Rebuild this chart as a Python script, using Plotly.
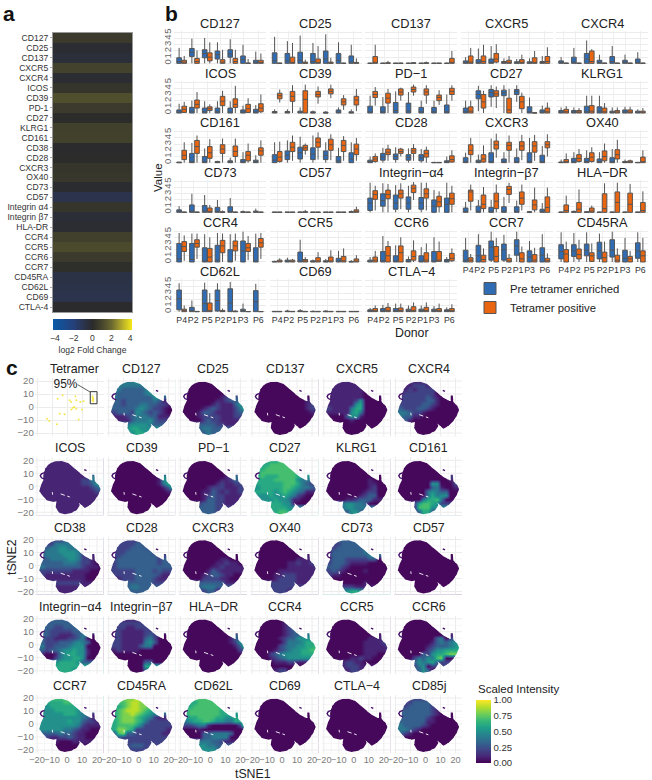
import plotly.graph_objects as go

W, H = 652, 780
FONT = "Liberation Sans"

# ---------- panel a ----------
fc_labels = ["CD127","CD25","CD137","CXCR5","CXCR4","ICOS","CD39","PD-1","CD27","KLRG1","CD161","CD38","CD28","CXCR3",
             "OX40","CD73","CD57","Integrin α4","Integrin β7","HLA-DR","CCR4","CCR5","CCR6","CCR7","CD45RA","CD62L","CD69","CTLA-4"]
fc_values = [0.6,-0.2,-0.4,0.9,-0.2,0.4,1.3,0.6,0.05,0.8,0.85,-0.05,0.05,0.4,0.45,-0.1,-0.9,0.4,-0.3,-0.2,0.8,1.15,0.6,0.1,-0.7,-0.8,-0.9,-0.05]

# ---------- panel b : each box is (q1, median, q3, low whisker, high whisker) ----------
donors = ["P4","P2","P5","P2","P1","P3","P6"]
donor_ticks = [1,1.9,3,4,4.9,5.8,7]

CD127_pre=[(0,.3,.9,0,2.5),(1.1,1.8,2.4,0,4),(.9,1.6,2.2,0,4.1),(.7,1.4,2,0,3.4),(1,1.5,2.2,0,3.9),(0,.6,1.2,0,3),(0,.2,.5,0,1.9)]
CD127_pos=[(0,.2,.5,0,1.2),(0,.3,.8,0,2.1),(.4,1,1.7,0,3.4),(0,.2,.6,0,2.2),(0,.3,.8,0,2.2),(0,0,.05,0,.7),(0,.15,.5,0,1.6)]
CD25_pre=[(0,.4,1.7,0,4.3),(0,.4,1.6,0,3.6),(0,.5,1.8,0,4.5),(0,.3,1.6,0,3.3),(0,.7,2,0,4.7),(0,.5,1.6,0,3.4),(0,.2,1.2,0,3)]
CD25_pos=[(0,0,.05,0,.1),(0,.1,1,0,3.3),(0,0,.2,0,.6),(0,.1,.7,0,2.8),(0,0,.2,0,.9),(0,0,.03,0,.1),(0,.05,.15,0,.8)]
CD137_pre=[(0,0,.03,0,.1),(0,0,.03,0,.1),(0,0,.03,0,.1),(0,0,.03,0,.1),(0,0,.03,0,.1),(0,0,.03,0,.1),(0,0,.03,0,.1)]
CD137_pos=[(0,.1,1.1,0,3),(0,.02,.1,0,.4),(0,0,.05,0,.1),(0,.02,.1,0,.2),(0,.02,.1,0,.3),(0,0,.05,0,.05),(0,.1,.8,0,2)]
CXCR5_pre=[(0,.1,.4,0,1),(0,.1,.6,0,2.4),(0,.1,.7,0,2.8),(0,.05,.3,0,.8),(0,.05,.25,0,.7),(0,.05,.25,0,.8),(0,.05,.3,0,1.2)]
CXCR5_pos=[(0,.2,1.2,0,2.5),(0,.3,1.2,0,3),(.2,.7,1.6,0,3.1),(0,.1,.5,0,1.2),(0,.1,.6,0,1.4),(0,.1,.9,0,2),(0,.3,1.1,0,2.6)]
CXCR4_pre=[(0,.1,.4,0,1),(0,.2,1,0,2.5),(0,.7,1.6,0,3.7),(0,.1,.5,0,1.4),(0,.3,1.1,0,2.8),(0,.1,.5,0,1.4),(0,.1,.7,0,1.8)]
CXCR4_pos=[(0,0,.05,0,.1),(0,0,.05,0,.1),(0,.3,2,0,2.3),(0,0,.05,0,.1),(0,0,.05,0,.1),(0,0,.05,0,.1),(0,0,.05,0,.1)]
ICOS_pre=[(0,.1,.5,0,1.5),(0,.3,.9,0,2),(0,.2,.8,0,1.9),(0,.2,.8,0,1.9),(0,.1,.8,0,1.9),(0,.1,.5,0,1.2),(0,.1,.6,0,1.3)]
ICOS_pos=[(.1,.6,1.1,0,1.8),(.8,1.4,2.1,0,3.4),(.4,.7,1,0,1.4),(1.2,1.9,2.7,0,3.6),(.9,1.4,2.3,0,4.4),(.1,.7,1.4,0,2.4),(.2,.8,1.5,0,3)]
CD39_pre=[(0,0,.25,0,.6),(0,0,.25,0,.6),(0,0,.3,0,.9),(0,0,.2,0,.4),(0,0,.15,0,.3),(0,0,.5,0,.9),(0,0,.2,0,.6)]
CD39_pos=[(2.3,2.8,3.2,1.7,3.8),(1.9,2.7,3.5,0,4.5),(0,2.2,3.6,0,4.6),(2.6,3,3.5,1.5,4.3),(3.1,3.5,3.9,2.4,4.6),(1.3,1.8,2.3,.5,2.9),(1.3,2.1,2.7,.3,3.9)]
PD1_pre=[(0,.1,1.1,0,2.8),(0,.2,1,0,2.6),(0,.4,1.7,0,3.5),(0,.3,1.6,0,3.4),(0,.2,.9,0,2),(0,.2,.9,0,2),(0,.2,1.3,0,3)]
PD1_pos=[(2.5,3,3.5,1.2,4.2),(1.6,2.4,3.2,0,3.9),(2.9,3.4,3.9,2,4.1),(3.4,3.8,4.2,2.8,4.6),(2.9,3.4,3.9,1.5,4.5),(2,2.5,2.9,1.3,3.7),(3,3.5,4,2,4.5)]
CD27_pre=[(0,.2,.8,0,2),(2.3,3,3.6,.3,4.4),(2.6,3.3,3.8,1,4.5),(2.8,3.3,3.7,0,4.5),(3,3.5,3.8,1.8,4.5),(0,.2,1,0,2.5),(0,.1,.5,0,1.2)]
CD27_pos=[(0,.3,1,0,2),(.8,1.8,3,0,3.6),(2.7,3.1,3.6,.8,4.3),(0,.5,2.4,0,3.9),(.7,1.8,2.7,0,3.3),(0,0,.05,0,.1),(0,.2,.8,0,1.7)]
KLRG1_pre=[(0,.1,.4,0,.9),(0,.1,.4,0,.9),(0,.2,1.1,0,2.8),(0,.3,1,0,2.8),(0,.1,.3,0,.9),(0,.1,.5,0,1),(0,.1,.3,0,.6)]
KLRG1_pos=[(0,.2,.6,0,1.1),(0,.1,.4,0,.8),(0,.3,1.2,0,2.8),(0,.2,.8,0,1.6),(0,.1,.4,0,.9),(0,.1,.5,0,1),(0,.1,.3,0,.8)]
CD161_pre=[(0,0,.1,0,.1),(0,.05,1.5,0,3.2),(0,.1,1,0,2.3),(0,.05,.2,0,.3),(0,.05,.3,0,.8),(0,.1,.5,0,1.7),(0,.05,.4,0,1.2)]
CD161_pos=[(.5,1.2,2,0,3.3),(1.5,2.6,3.6,0,4.4),(.7,1.6,2.6,0,3.8),(1.5,2.2,2.9,0,3.9),(1,1.8,2.7,0,3.9),(.3,1.2,1.8,0,3.1),(1.2,1.9,2.4,0,3.6)]
CD38_pre=[(0,.4,1.3,0,3.3),(.5,1.2,1.9,0,3.6),(.6,1.6,2.5,0,4.2),(.5,1.4,2.4,0,4.4),(.5,1.2,1.9,0,3.3),(0,.3,1,0,2.4),(0,.6,1.6,0,3.3)]
CD38_pos=[(.2,.9,1.8,0,3.4),(1.8,2.5,3.3,.3,4.4),(2,2.4,2.8,1.3,3.1),(2.5,3.3,4,.5,4.9),(2,2.9,3.8,.4,4.6),(1.8,2.8,3.6,.3,4.3),(1.3,2.2,3,.3,4)]
CD28_pre=[(0,.1,.4,0,1),(.4,.9,1.5,0,2.4),(.5,1,1.4,0,2.5),(.4,.9,1.3,0,2.3),(.3,.8,1.3,0,2.2),(0,0,.05,0,.1),(0,.1,.3,0,1)]
CD28_pos=[(.2,.6,1,0,1.5),(1.3,1.7,2.2,.3,2.9),(1.5,1.8,2.2,1,2.4),(1.5,1.9,2.3,.3,3),(.9,1.5,2,0,2.6),(0,0,.05,0,.1),(.1,.5,1.1,0,2)]
CXCR3_pre=[(0,.05,.8,0,1.6),(0,.05,.4,0,1.3),(0,.1,1.6,0,3.9),(0,.05,.6,0,1.7),(0,.1,.8,0,2.3),(0,.1,1.6,0,4),(0,.1,1.2,0,2.7)]
CXCR3_pos=[(1.3,2,2.9,0,4),(.1,.6,1.3,0,2.8),(2.2,2.9,3.5,.8,4.7),(2,2.8,3.3,0,4.4),(2,2.7,3.4,.4,4.5),(1.7,2.7,3.4,.3,4.5),(2.4,2.9,3.4,1,4.6)]
OX40_pre=[(0,.05,.1,0,.5),(0,.1,.7,0,1.7),(0,.1,.7,0,2),(0,.1,.6,0,1.7),(0,.1,.8,0,2.2),(0,0,.2,0,.5),(0,0,.05,0,.1)]
OX40_pos=[(0,.1,.5,0,1.5),(.2,.7,1.3,0,2.2),(.2,.9,1.6,0,2.5),(.3,1,1.9,0,3.1),(.6,1.3,2.1,0,3.7),(0,.1,.3,0,.5),(0,.1,.9,0,2)]
CD73_pre=[(0,.05,.4,0,1),(0,.1,1.2,0,3),(0,.2,1.1,0,2.8),(0,.1,.8,0,2),(0,.1,.9,0,2.3),(0,.02,.1,0,.3),(0,.05,.2,0,.6)]
CD73_pos=[(0,0,.05,0,.1),(0,0,.05,0,.1),(0,.1,.7,0,1.2),(0,0,.1,0,.3),(0,0,.05,0,.1),(0,0,.05,0,.1),(0,0,.05,0,.1)]
CD57_pre=[(0,0,.05,0,.05),(0,0,.05,0,.05),(0,.02,.05,0,.1),(0,0,.05,0,.05),(0,0,.05,0,.05),(0,0,.05,0,.05),(0,.05,.1,0,.3)]
CD57_pos=[(0,0,.05,0,.05),(0,0,.05,0,.05),(0,.05,.1,0,.4),(0,0,.05,0,.05),(0,0,.05,0,.05),(0,0,.05,0,.05),(0,.1,.4,0,.9)]
ITGA4_pre=[(.3,1.5,2.3,0,4.8),(1,1.9,3,0,4.7),(.5,1.5,2.8,0,4.4),(.5,1.5,2.5,0,4.3),(.5,1.5,2.4,0,4.8),(0,1,2,0,3.6),(0,1.3,2.3,0,4.8)]
ITGA4_pos=[(2.1,2.9,3.5,.3,4.3),(2.2,2.9,3.6,0,4.6),(2.3,3,3.6,.5,4.7),(3.2,3.9,4.4,2,4.9),(2.3,3,3.8,.3,4.8),(.9,1.7,2.6,0,3.4),(1.3,2.2,3.1,0,4.3)]
ITGB7_pre=[(0,.05,.7,0,1.7),(0,.1,1,0,2),(0,.1,.8,0,2),(0,.1,.9,0,2.5),(0,.1,.9,0,1.9),(0,.05,.1,0,.2),(0,.05,.5,0,1.5)]
ITGB7_pos=[(1.8,3.3,3.6,.3,4.5),(.6,1.3,2.8,0,4.1),(.6,1.8,3.1,0,4.5),(2.9,3.7,4.2,1.5,4.8),(1.3,2.3,3.3,.3,4.5),(.4,1.2,2,0,4),(0,.8,2.5,0,4)]
HLADR_pre=[(0,0,.05,0,.1),(0,.05,.15,0,.3),(0,0,.1,0,.2),(0,0,.05,0,.1),(0,0,.05,0,.1),(0,0,.05,0,.1),(0,0,.05,0,.1)]
HLADR_pos=[(0,.3,1.2,0,2.7),(0,.5,1.6,0,3.7),(0,.2,.7,0,1.1),(0,.6,3,0,4.7),(0,1.6,3.3,0,4.8),(0,1.3,3.1,0,4.6),(0,.3,1.6,0,3.4)]
CCR4_pre=[(0,.5,3,0,4.7),(0,.4,3,0,4.6),(0,.1,2.3,0,4.5),(0,.3,2.7,0,4.7),(0,.1,2,0,4.5),(0,1.8,3.4,0,4.9),(0,.1,2.3,0,4.6)]
CCR4_pos=[(1.7,2.5,3.3,.2,4.3),(2.4,3,3.6,.5,4.6),(0,.8,2.2,0,4),(1.5,2.6,3.5,0,4.6),(1.8,2.6,3.4,.2,4.6),(1.7,2.3,3,.3,4.2),(2.4,3.1,3.8,.5,4.7)]
CCR5_pre=[(0,.05,.1,0,.2),(0,.05,.3,0,.7),(0,.1,1.6,0,3.6),(0,.05,.2,0,.4),(0,.05,.2,0,.5),(0,.1,.6,0,1.8),(0,.02,.1,0,.3)]
CCR5_pos=[(0,.1,.3,0,.6),(0,.05,.3,0,.5),(0,.1,.4,0,.8),(0,.1,.7,0,1.6),(0,.1,.8,0,1.9),(0,.2,.9,0,2.2),(0,.1,.5,0,1.1)]
CCR6_pre=[(0,.05,.3,0,.8),(0,.2,1.7,0,4.2),(0,.1,1,0,2.7),(0,.05,.4,0,.9),(0,.1,1,0,2.4),(0,.2,1.7,0,4),(0,.05,.4,0,.8)]
CCR6_pos=[(0,.3,.8,0,1.8),(0,1,2.5,0,3.4),(0,1.5,2.6,0,4),(.3,.9,1.8,0,3.5),(0,.3,1.5,0,3),(.1,.3,1.7,0,3.3),(.2,.6,1.4,0,2.2)]
CCR7_pre=[(0,.3,1.9,0,3.9),(0,1,2.7,0,4.5),(.3,2.4,3.4,0,4.9),(.3,2,2.9,0,4.4),(1.1,2.6,3.6,0,4.9),(0,.8,1.8,0,3.4),(0,1.1,2.3,0,4.5)]
CCR7_pos=[(0,.3,.7,0,1.3),(0,.4,1.1,0,2.2),(0,.9,2.5,0,3.9),(0,.1,.6,0,1.3),(0,.5,1.5,0,2.5),(0,.3,1.2,0,2.3),(0,.2,.6,0,1.4)]
CD45RA_pre=[(.5,1.7,2.8,0,4.8),(.9,1.8,2.8,0,4.7),(1,1.9,2.9,0,4.8),(.5,1.8,3.2,0,4.6),(.8,1.9,3.6,0,4.9),(0,.6,1.9,0,3.9),(.6,1.8,3.1,0,4.8)]
CD45RA_pos=[(0,1.3,2,0,3.3),(.5,1.2,2.1,0,3.6),(.1,1,1.5,0,3),(0,.7,1.6,0,3.3),(0,.3,1.1,0,2.2),(0,.5,.9,0,1.8),(0,1,1.8,0,3.9)]
CD62L_pre=[(.3,2.1,3.5,0,4.6),(0,.1,.7,0,1.8),(0,1.3,3.5,0,4.7),(.1,1.8,3.5,0,4.6),(0,1.4,3.7,0,4.8),(0,.05,.4,0,1.3),(0,1.6,3.4,0,4.5)]
CD62L_pos=[(0,.05,.4,0,1),(0,0,.05,0,.1),(0,.05,1.4,0,3),(0,0,.2,0,.5),(0,0,.1,0,.2),(0,0,.03,0,.03),(0,0,.03,0,.03)]
CD69_pre=[(0,0,.05,0,.05),(0,.02,.1,0,.3),(0,.02,.15,0,.4),(0,0,.05,0,.2),(0,0,.1,0,.2),(0,0,.05,0,.05),(0,0,.05,0,.05)]
CD69_pos=[(0,0,.05,0,.05),(0,0,.05,0,.05),(0,0,.05,0,.05),(0,0,.05,0,.05),(0,0,.05,0,.05),(0,0,.05,0,.05),(0,0,.05,0,.05)]
CTLA4_pre=[(0,.1,.3,0,.6),(0,.1,.5,0,1.1),(0,.1,.5,0,1.3),(0,.1,.4,0,1),(0,.1,.4,0,1),(0,.1,.4,0,.9),(0,.1,.3,0,.7)]
CTLA4_pos=[(0,.1,.5,0,1),(0,.2,.7,0,1.4),(0,.2,.6,0,1.3),(0,.2,.8,0,1.5),(0,.2,.7,0,1.5),(0,.1,.5,0,1.3),(0,.1,.5,0,1.2)]

box_titles = ["CD127","CD25","CD137","CXCR5","CXCR4","ICOS","CD39","PD−1","CD27","KLRG1","CD161","CD38","CD28","CXCR3","OX40",
              "CD73","CD57","Integrin−α4","Integrin−β7","HLA−DR","CCR4","CCR5","CCR6","CCR7","CD45RA","CD62L","CD69","CTLA−4"]
box_pre = [CD127_pre,CD25_pre,CD137_pre,CXCR5_pre,CXCR4_pre,ICOS_pre,CD39_pre,PD1_pre,CD27_pre,KLRG1_pre,CD161_pre,CD38_pre,CD28_pre,CXCR3_pre,OX40_pre,
           CD73_pre,CD57_pre,ITGA4_pre,ITGB7_pre,HLADR_pre,CCR4_pre,CCR5_pre,CCR6_pre,CCR7_pre,CD45RA_pre,CD62L_pre,CD69_pre,CTLA4_pre]
box_pos = [CD127_pos,CD25_pos,CD137_pos,CXCR5_pos,CXCR4_pos,ICOS_pos,CD39_pos,PD1_pos,CD27_pos,KLRG1_pos,CD161_pos,CD38_pos,CD28_pos,CXCR3_pos,OX40_pos,
           CD73_pos,CD57_pos,ITGA4_pos,ITGB7_pos,HLADR_pos,CCR4_pos,CCR5_pos,CCR6_pos,CCR7_pos,CD45RA_pos,CD62L_pos,CD69_pos,CTLA4_pos]

# ---------- panel c : coarse intensity, one digit per cell, tenths of the scale ----------
grid_x = [-19.5,-16.5,-13.5,-10.5,-7.5,-4.5,-1.5,1.5,4.5,7.5,10.5,13.5,16.5,19.5,22.5]
grid_y = [20,17,14,11,8,5,2,-1,-4,-7,-10,-13,-16,-19,-22]
row_start = [5,3,2,1,1,1,1,1,1,1,1,4,4,5]

# outline of the tSNE map and its white slits
blob_x = [-7.6,-3.6,.8,4.2,6.4,9.3,11.9,14.8,16.8,16.8,18.2,18.6,21.3,22.4,20.8,18.6,15.3,11.9,9.7,7.9,8.6,6.4,3,-1.4,-5.4,-7.6,-7,-9.2,-13.6,-16.5,-18.5,-17.4,-15.8,-15.8,-14.7,-12.5,-10.3]
blob_y = [19.2,19.4,17.9,14.8,12.2,9.7,7.1,5.3,4.6,8.9,8.9,3.8,.7,-2.4,-7,-10.8,-14.7,-16.7,-14.7,-12.6,-14.7,-18.5,-20.6,-21.6,-20.3,-16,-11.6,-12.1,-10.8,-7,-3.9,.7,4.6,8.4,13.5,16.6,18.2]
slit_x = [-9.8,-9.6,None,-4.2,-1.5,None,.2,1.9]
slit_y = [-4.5,-6.5,None,-5.9,-7,None,-7.6,-8.3]
island_x = [-15,-17,-17.8,-17,-15,None,11.5,13]
island_y = [10.5,9.5,8,6.5,5.5,None,12.8,12]

tsne_titles = ["CD127","CD25","CD137","CXCR5","CXCR4","ICOS","CD39","PD−1","CD27","KLRG1","CD161","CD38","CD28","CXCR3","OX40","CD73","CD57",
               "Integrin−α4","Integrin−β7","HLA−DR","CCR4","CCR5","CCR6","CCR7","CD45RA","CD62L","CD69","CTLA−4","CD85j"]
ZERO = "0000 0000000 000000000 00000000000 000000000000 000000000000 0000000000000 00000000000000 0000000000000 000000000000 00000000000 0000000 00000 0000"
tsne_cells = [
"4554 4444445 433333455 43333334554 433333333553 332333333431 3323334433221 33333454322100 2333254323210 111234443311 01113444532 4555543 56655 5665",
"0000 0000000 000000000 00000000000 000000001223 000000011233 0000001211135 00001232111246 0001332111123 000122221112 00002322111 3333221 34433 3433",
"0000 0000000 000000000 00000000000 000000000000 000000000001 0000000000012 00000000000122 0000000000001 000000000000 00000000000 0000000 00000 0000",
"1111 1111111 111111100 11111111000 111111110000 111111250000 1111115600000 21111466000000 1111156400000 000035510000 00000100000 0000000 00000 0000",
"1111 1222111 121222210 12222222000 222222321000 222222331000 2222233210000 32223321000000 4432210000000 433110000000 13100000000 0000000 00000 0000",
"1111 1111111 111111111 11111111111 111111111114 111111111224 1111111112235 11111111111234 1111111111112 111111111111 11111111111 1111111 11111 1111",
"0000 0000000 000000000 00000000000 000000000005 000000000015 0000000000146 00000000000136 0000000000001 000000000000 00000000000 0000000 00000 0000",
"0000 0000000 000000000 00000000000 000000000114 000000001123 0000000121122 00000122211122 0000113212112 000012322111 00001332211 2333221 33332 3332",
"6776 6777777 677777776 67777777766 676667777655 666677777544 6666667776432 56666677654433 6666567654311 555655654210 45556554110 6665510 66665 6776",
"0000 0000000 000000000 00000000000 000000000000 000000000100 0000000001100 00000000012000 0000000012200 000000012330 00001123331 4554430 45544 3553",
"0000 0000000 000000000 00000000000 000000000002 000000000001 0000000550002 00000003410011 0000004543300 000000464550 00000466740 2677652 17775 3663",
"2333 2444442 344554432 34445555421 344445554211 334444554221 3333344432210 43333333321110 2222222111100 211111111100 11111111110 2222221 11111 1111",
"2222 2223322 222333322 22233333322 223333333322 233333333323 2333333333233 23333333333333 2222233332322 222223333321 11222333321 3333332 34433 3333",
"0000 0000000 000000000 00000000000 000000000000 000000001100 0000000112110 00000011211111 0000013211111 000012332110 00002222110 3333331 34443 2331",
"0000 0000000 000000000 00000000000 000000000001 000000000111 0000000112112 00000001111112 0000011111111 000011222111 00001222211 2222221 22222 2221",
"3333 2333333 233333334 23333333445 233333333453 233322222330 2333211110000 33321000000000 2321000010000 211000000000 00000000000 0000010 22211 5665",
ZERO,
"3333 3333333 332233334 33222223334 332211123450 322111223400 3222333454300 42233345550000 3233455655100 100145665510 00024556650 5666653 66666 6665",
"1111 2222222 221122222 22111112222 221111123220 221111134200 2211111453000 22111134400000 1211110000000 000000000000 00000000000 0000330 00006 0003",
"0000 0000000 000000000 00000000000 000000000003 000000000013 0000000000125 00000000000137 0000000000002 000000000000 00000000000 0000000 00000 0000",
"0000 0000122 000001233 00000012334 000000123344 000001233555 0000002444566 00000234455667 0000123455667 000234555566 00012345555 0111221 00000 1220",
"0000 0000000 000000000 00000000000 000000000001 000000000111 0000000011112 00000000111112 0000000011111 000000001110 00000112110 1221100 12221 1221",
"0000 0000000 000000000 00000000000 000000000001 000000003402 0000000134345 00000012333456 0000002355666 000003256678 00024354780 3545632 24502 3530",
"7776 6667766 566666665 55566666554 555556665441 555555555431 5555556553221 55555555421111 5555544321100 333343321100 22112232110 1000111 00000 0000",
"8998 7899887 678998876 67899987665 678898765443 678887654211 6788876422222 67777642222222 6887622222221 378332222221 23222222222 2222222 23332 2222",
"7777 6777777 677777776 67777777666 677777776655 566777766556 4566776554466 22344100000028 0001000000000 000033444430 00003344440 4443321 55443 5554",
ZERO,
ZERO,
"2233 2333322 233333221 33333332100 333333321000 333333210000 3333331100000 43333210000000 4432100000000 321000000000 00000000000 0000000 00000 0000",
]
tet_x = [-13.3,-11.8,-6.7,-6.2,-2.9,-4.9,-1.6,1.8,2.7,5.6,4,4.9,2.9,6.2,8.9,11.1,10,7.8,6.2,17,17.3,17.5,17,17.6,17.2,17.4]
tet_y = [-9,-10.8,-13.3,6.4,9,-5.1,-5.6,5.1,3.8,8.2,-.5,0,-2,-1.3,3.8,4.4,-2,-9.7,5.1,8,7,6,5,4.5,6.5,5.5]
gate_x = [15.5,20]
gate_y = [2.5,11.8]

# ---------- helpers ----------
def xd(a, b): return [a / W, b / W]
def yd(t, b): return [1 - b / H, 1 - t / H]

fig = go.Figure()
layout = {}
ann = []
n_axis = [0]

def new_axes(xdom, ydom, xa, ya):
    n_axis[0] += 1
    i = n_axis[0]
    sx = "" if i == 1 else str(i)
    layout["xaxis" + sx] = dict(domain=xdom, anchor="y" + sx, **xa)
    layout["yaxis" + sx] = dict(domain=ydom, anchor="x" + sx, **ya)
    return "x" + sx, "y" + sx

def text(x, y, s, size, color="#222222", **k):
    ann.append(dict(x=x / W, y=1 - y / H, xref="paper", yref="paper", text=s, showarrow=False,
                    font=dict(size=size, color=color, family=FONT), xanchor=k.pop("xanchor", "center"), yanchor="middle", **k))

def outside_spans(fixed, low, high, vertical):
    """Parts of a grid line that lie outside the map outline."""
    cuts = []
    n = len(blob_x)
    for i in range(n):
        a0, b0 = (blob_x[i], blob_y[i]) if vertical else (blob_y[i], blob_x[i])
        a1, b1 = (blob_x[(i + 1) % n], blob_y[(i + 1) % n]) if vertical else (blob_y[(i + 1) % n], blob_x[(i + 1) % n])
        if (a0 <= fixed) != (a1 <= fixed):
            cuts.append(b0 + (fixed - a0) / (a1 - a0) * (b1 - b0))
    pts = [low] + sorted(c for c in cuts if low < c < high) + [high]
    return [(pts[i], pts[i + 1]) for i in range(0, len(pts) - 1, 2)]

def grid_segments(values, x_rng, y_rng):
    gx, gy = [], []
    for v in values:
        for a, b in outside_spans(v, y_rng[0], y_rng[1], True):
            gx += [v, v, None]; gy += [a, b, None]
        for a, b in outside_spans(v, x_rng[0], x_rng[1], False):
            gx += [a, b, None]; gy += [v, v, None]
    return gx, gy

# panel a
xa, ya = new_axes(xd(53, 132), yd(33, 312),
    dict(showticklabels=False, showgrid=False, zeroline=False, ticks="", range=[0, 1], showline=True, linecolor="#999999", mirror=True),
    dict(autorange="reversed", showgrid=False, zeroline=False, ticks="outside", ticklen=2, tickcolor="#aaaaaa", tickwidth=1,
         showline=True, linecolor="#999999", mirror=True,
         tickfont=dict(size=8.6, color="#333333", family=FONT), tickmode="array",
         tickvals=fc_labels, ticktext=fc_labels, type="category"))
fig.add_trace(go.Heatmap(x=[0, 1], y=fc_labels, z=[[v, v] for v in fc_values], xaxis=xa, yaxis=ya, coloraxis="coloraxis2", hoverinfo="skip"))

# panel b
BLUE, ORANGE, EDGE = "#2f6cb4", "#ea6510", "#555555"
for k, title in enumerate(box_titles):
    r, c = divmod(k, 5)
    left = 174 + 95.5 * c
    bottom = 64.9 + 49.66 * r
    show_x = (r == 5) or (r == 4 and c >= 3)
    xa, ya = new_axes(xd(left, left + 92), yd(bottom - 34, bottom),
        dict(range=[0.4, 7.6], tickmode="array", tickvals=donor_ticks, ticktext=donors, showticklabels=show_x, ticks="", tickangle=0,
             showgrid=True, gridcolor="#efefef", gridwidth=1, zeroline=False, tickfont=dict(size=8.8, color="#333333", family=FONT)),
        dict(range=[-0.25, 5.25], tickmode="array", tickvals=[0, 1, 2, 3, 4, 5], showticklabels=(c == 0), ticks="", tickangle=-90,
             showgrid=True, gridcolor="#ececec", gridwidth=1, zeroline=False, tickfont=dict(size=9.5, color="#666666", family=FONT)))
    for boxes, off, col, nm in ((box_pre[k], -0.2, BLUE, "Pre tetramer enriched"), (box_pos[k], 0.2, ORANGE, "Tetramer positive")):
        fig.add_trace(go.Box(x=[i + 1 + off for i in range(7)],
                             q1=[b[0] for b in boxes], median=[b[1] for b in boxes], q3=[b[2] for b in boxes],
                             lowerfence=[b[3] for b in boxes], upperfence=[b[4] for b in boxes],
                             width=0.36, whiskerwidth=0, boxpoints=False, fillcolor=col, line=dict(color=EDGE, width=1),
                             name=nm, legendgroup=nm, showlegend=(k == 0), xaxis=xa, yaxis=ya, hoverinfo="skip"))
    text(left + 46, bottom - 41.5, title, 12.8)

# panel c
col_x0 = [67, 138.7, 210.4, 282.1, 353.8, 425.5]
row_y0 = [407, 486.25, 565.5, 644.75, 724]
tsne_ticks = [-20, -10, 0, 10, 20]
tsne_minor = [-15, -5, 5, 15]
XR, YR = [-21.5, 24.5], [-22.5, 22.5]
for k in range(30):
    r, c = divmod(k, 6)
    x0, y0 = col_x0[c], row_y0[r]
    xa, ya = new_axes(xd(x0 - 32.25, x0 + 36.75), yd(y0 - 29.25, y0 + 29.25),
        dict(range=XR, tickvals=tsne_ticks, showticklabels=(r == 4), ticks="", showgrid=(k == 0), gridcolor="#ececec", zeroline=False, tickangle=0,
             tickfont=dict(size=9.2, color="#7a7a7a", family=FONT)),
        dict(range=YR, tickvals=tsne_ticks, showticklabels=(c == 0), ticks="", showgrid=(k == 0), gridcolor="#ececec", zeroline=False,
             tickfont=dict(size=9.6, color="#7a7a7a", family=FONT)))
    if k == 0:
        fig.add_trace(go.Scatter(x=tet_x, y=tet_y, mode="markers", marker=dict(size=2, color="#f4e74a"), xaxis=xa, yaxis=ya,
                                 showlegend=False, hoverinfo="skip"))
        fig.add_trace(go.Scatter(x=[gate_x[0], gate_x[1], gate_x[1], gate_x[0], gate_x[0]],
                                 y=[gate_y[0], gate_y[0], gate_y[1], gate_y[1], gate_y[0]], mode="lines",
                                 line=dict(color="#333333", width=1), xaxis=xa, yaxis=ya, showlegend=False, hoverinfo="skip"))
        fig.add_trace(go.Scatter(x=[7.1, 15.5], y=[17.2, 11.5], mode="lines", line=dict(color="#333333", width=0.8),
                                 xaxis=xa, yaxis=ya, showlegend=False, hoverinfo="skip"))
        fig.add_trace(go.Scatter(x=[-1], y=[17], mode="text", text=["95%"], textfont=dict(size=12, color="#222222", family=FONT),
                                 xaxis=xa, yaxis=ya, showlegend=False, hoverinfo="skip"))
        text(74.5, y0 - 38, "Tetramer", 12.4)
        continue
    rows = tsne_cells[k - 1].split()
    z = []
    for i, row in enumerate(rows):
        vals = [max(int(ch) / 10, 0.02) for ch in row]
        line = [vals[0]] * len(grid_x)                 # cells outside the outline repeat the edge value; the mask hides them
        for j in range(len(grid_x)):
            if j >= row_start[i]:
                line[j] = vals[min(j - row_start[i], len(vals) - 1)]
        z.append(line)
    z.append(z[-1])
    fig.add_trace(go.Heatmap(x=grid_x, y=grid_y, z=z, coloraxis="coloraxis", zsmooth="best", xaxis=xa, yaxis=ya, hoverinfo="skip"))
    # white cover outside the outline, with a zero-width seam to its hole (hole wound the opposite way)
    hole_x, hole_y = blob_x[::-1], blob_y[::-1]
    mx = [XR[0], XR[1], XR[1], XR[0], XR[0]] + hole_x + [hole_x[0], XR[0]]
    my = [YR[1], YR[1], YR[0], YR[0], YR[1]] + hole_y + [hole_y[0], YR[1]]
    fig.add_trace(go.Scatter(x=mx, y=my, mode="lines", fill="toself", fillcolor="white", line=dict(width=0),
                             xaxis=xa, yaxis=ya, showlegend=False, hoverinfo="skip"))
    gx, gy = grid_segments(tsne_minor, XR, YR)
    fig.add_trace(go.Scatter(x=gx, y=gy, mode="lines", line=dict(color="#f6f6f6", width=1), xaxis=xa, yaxis=ya, showlegend=False, hoverinfo="skip"))
    gx, gy = grid_segments(tsne_ticks, XR, YR)
    fig.add_trace(go.Scatter(x=gx, y=gy, mode="lines", line=dict(color="#ececec", width=1), xaxis=xa, yaxis=ya, showlegend=False, hoverinfo="skip"))
    fig.add_trace(go.Scatter(x=slit_x, y=slit_y, mode="lines", line=dict(color="white", width=0.9), xaxis=xa, yaxis=ya, showlegend=False, hoverinfo="skip"))
    fig.add_trace(go.Scatter(x=island_x, y=island_y, mode="lines", line=dict(color="#45106a", width=1.4),
                             xaxis=xa, yaxis=ya, showlegend=False, hoverinfo="skip"))
    text(x0 + 3, y0 - 38, tsne_titles[k - 1], 12.4)

text(8.5, 13, "<b>a</b>", 21, "#111111")
text(171, 13, "<b>b</b>", 21, "#111111")
text(12, 367, "<b>c</b>", 21, "#111111")
text(158, 178, "Value", 11.5, textangle=-90)
text(412, 333, "Donor", 12.3)
text(12, 557, "tSNE2", 12.3, textangle=-90)
text(253, 774, "tSNE1", 12.3)
text(476, 689, "Scaled Intensity", 11.5, xanchor="left")

diverge = [[0, "#0a5aa8"], [0.26, "#25407a"], [0.38, "#2b3550"], [0.5, "#2b2b2b"], [0.62, "#46452c"], [0.74, "#6a6830"], [0.87, "#b0a82c"], [1, "#f5e91a"]]
fig.update_layout(
    width=W, height=H, margin=dict(l=0, r=0, t=0, b=0, autoexpand=False), paper_bgcolor="white", plot_bgcolor="white",
    font=dict(family=FONT), boxmode="overlay", annotations=ann,
    legend=dict(x=470 / W, y=1 - 274 / H, xanchor="left", yanchor="top", font=dict(size=11.3, color="#222222", family=FONT),
                tracegroupgap=0, bgcolor="rgba(0,0,0,0)", itemclick=False),
    coloraxis=dict(colorscale="Viridis", cmin=0, cmax=1,
                   colorbar=dict(x=476 / W, xanchor="left", y=1 - 700 / H, yanchor="top", lenmode="pixels", len=63, thicknessmode="pixels",
                                 thickness=15, ypad=0, xpad=0, outlinewidth=0, ticks="", tickvals=[0, .25, .5, .75, 1],
                                 ticktext=["0.00", "0.25", "0.50", "0.75", "1.00"], tickfont=dict(size=9.6, color="#333333", family=FONT))),
    coloraxis2=dict(colorscale=diverge, cmin=-4.2, cmax=4.2,
                    colorbar=dict(orientation="h", x=53 / W, xanchor="left", y=1 - 319 / H, yanchor="top", lenmode="pixels", len=79,
                                  thicknessmode="pixels", thickness=11, xpad=0, ypad=0, outlinewidth=0, ticks="", tickvals=[-4, -2, 0, 2, 4],
                                  tickfont=dict(size=8.6, color="#333333", family=FONT),
                                  title=dict(text="log2 Fold Change", side="bottom", font=dict(size=8.6, color="#333333", family=FONT)))),
    **layout)
fig.write_html("out.html", config=dict(displayModeBar=False), post_script="document.body.style.margin='0';")
